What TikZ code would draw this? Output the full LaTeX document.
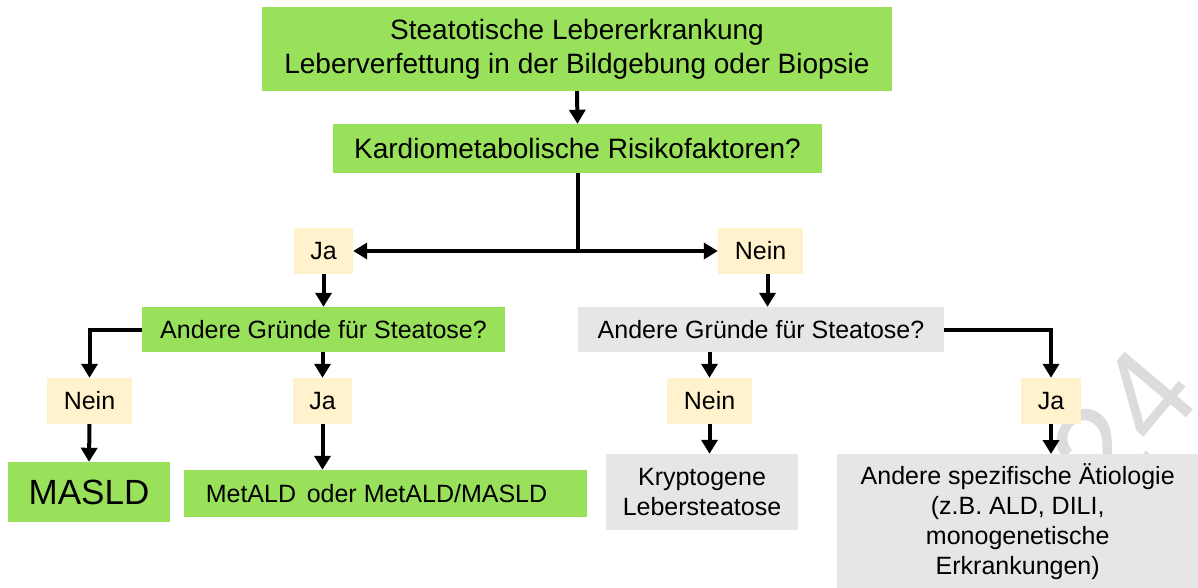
\documentclass[tikz,border=0pt]{standalone}
\usepackage{fontspec}
\setmainfont{Liberation Sans}
\usetikzlibrary{arrows.meta}
\definecolor{boxgreen}{HTML}{99E05B}
\definecolor{boxgrey}{HTML}{E7E6E6}
\definecolor{answercream}{HTML}{FFF2CC}
\definecolor{markgrey}{HTML}{DCDCDC}
\begin{document}
\begin{tikzpicture}[x=1pt,y=-1pt,
  every node/.style={inner sep=0pt,align=center,font=\fontsize{25}{30}\selectfont},
  greenbox/.style={fill=boxgreen},
  greybox/.style={fill=boxgrey},
  answer/.style={fill=answercream,minimum height=46pt},
  flow/.style={line width=4pt,-{Triangle[length=14pt,width=16pt]}}]
  \useasboundingbox (0,0) rectangle (1198,588);
  \node[text=markgrey,rotate=50,font=\fontsize{130}{130}\selectfont] (mark) at (1123,423) {24};
  \node[greenbox,minimum width=630pt,minimum height=84pt,font=\fontsize{28}{34}\selectfont] (start) at (577,49)
    {Steatotische Lebererkrankung\\Leberverfettung in der Bildgebung oder Biopsie};
  \node[greenbox,minimum width=489pt,minimum height=49pt,font=\fontsize{28}{34}\selectfont] (risk) at (577.5,148.5)
    {Kardiometabolische Risikofaktoren?};
  \node[answer,minimum width=59pt] (yesA) at (323.5,251) {Ja};
  \node[answer,minimum width=85pt] (noA) at (760.5,251) {Nein};
  \node[greenbox,minimum width=363pt,minimum height=45pt] (causeL) at (323.5,329.5) {Andere Gründe für Steatose?};
  \node[greybox,minimum width=366pt,minimum height=45pt] (causeR) at (761,329.5) {Andere Gründe für Steatose?};
  \node[answer,minimum width=85pt] (noB) at (89.5,401) {Nein};
  \node[answer,minimum width=59pt] (yesB) at (322.5,401) {Ja};
  \node[answer,minimum width=85pt] (noC) at (709.5,401) {Nein};
  \node[answer,minimum width=60pt] (yesC) at (1051,401) {Ja};
  \node[greenbox,minimum width=162pt,minimum height=60pt,font=\fontsize{35}{40}\selectfont] (masld) at (89,492) {MASLD};
  \node[greenbox,minimum width=403pt,minimum height=47pt] (metald) at (385.5,493.5) {MetALD\hspace{0.15em} oder MetALD/MASLD\hspace{18pt}};
  \node[greybox,minimum width=192pt,minimum height=76pt] (crypto) at (702,492) {Kryptogene\\Lebersteatose};
  \node[greybox,minimum width=361pt,minimum height=134pt,anchor=north west] (other) at (837,454)
    {Andere spezifische Ätiologie\\(z.B. ALD, DILI,\\monogenetische\\Erkrankungen)};
  \draw[flow] (start.south) -- (risk.north);
  \draw[flow] (risk.south) -- (risk.south |- yesA.east) -- (yesA.east);
  \draw[flow] (risk.south |- noA.west) -- (noA.west);
  \draw[flow] (yesA.south) -- (causeL.north);
  \draw[flow] ([xshift=7pt]noA.south) -- ([xshift=7pt]noA.south |- causeR.north);
  \draw[flow] (causeL.west) -| (noB.north);
  \draw[flow] (causeL.south -| yesB.north) -- (yesB.north);
  \draw[flow] (noB.south) -- (masld.north);
  \draw[flow] (yesB.south) -- (yesB.south |- metald.north);
  \draw[flow] (causeR.south -| noC.north) -- (noC.north);
  \draw[flow] (causeR.east) -| (yesC.north);
  \draw[flow] (noC.south) -- (noC.south |- crypto.north);
  \draw[flow] (yesC.south) -- (yesC.south |- other.north);
\end{tikzpicture}
\end{document}
